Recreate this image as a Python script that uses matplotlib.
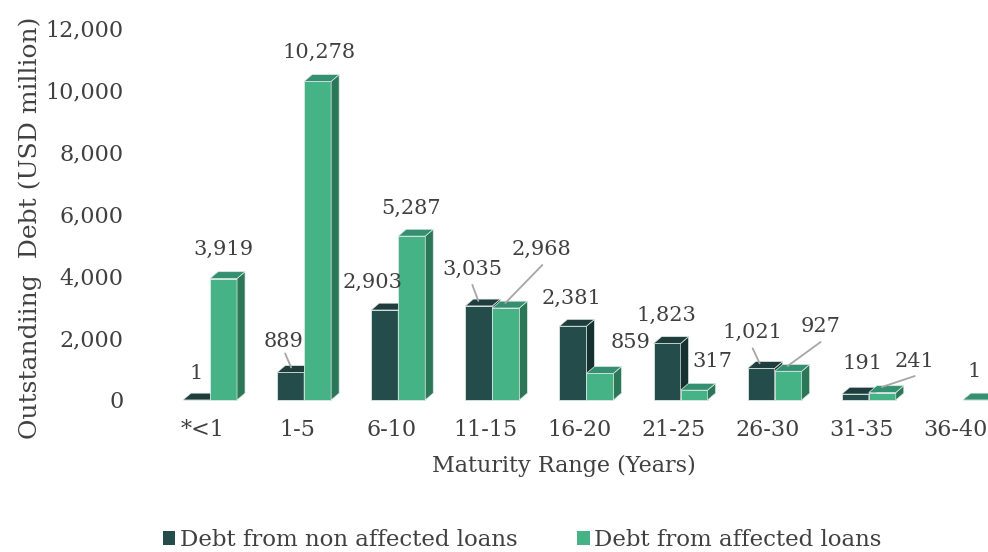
import matplotlib
matplotlib.use("Agg")
import matplotlib.pyplot as plt
from matplotlib.patches import Polygon, Patch
from matplotlib.transforms import offset_copy

categories = ["*<1", "1-5", "6-10", "11-15", "16-20", "21-25", "26-30", "31-35", "36-40"]
non_affected = [1, 889, 2903, 3035, 2381, 1823, 1021, 191, 0]
affected = [3919, 10278, 5287, 2968, 859, 317, 927, 241, 1]
non_affected_labels = ["1", "889", "2,903", "3,035", "2,381", "1,823", "1,021", "191", None]
affected_labels = ["3,919", "10,278", "5,287", "2,968", "859", "317", "927", "241", "1"]
y_ticks = [0, 2000, 4000, 6000, 8000, 10000, 12000]

# layout / style
FONT = "DejaVu Serif"
TXT = "#404040"
LEAD = "#A6A6A6"
dark = dict(front="#234C4B", top="#1E3D3C", side="#173030")
green = dict(front="#45B386", top="#349070", side="#2B7758")
W = 0.287     # bar width (data units)
SHIFT = 0.075 # boundary between the pair, relative to category tick
DX = 0.085    # depth offset x (data units)
DY = 220      # depth offset y (data units)

# label offsets in pixels (dx, dy) from each bar's front-top centre, and optional leader (x1, y1, x2, y2)
na_lab = [((0, 26), None), ((-7.5, 31), (-5.5, 19, 0.5, 5)), ((-12.5, 28), None),
          ((-6.5, 37), (-6.5, 21, -0.5, 5)), ((-1.5, 28), None), ((-0.5, 28.5), None),
          ((-8.5, 36), (-8.5, 20, -1.5, 5)), ((7.5, 31), None), None]
af_lab = [((-0.5, 29.5), None), ((1.5, 29.4), None), ((-0.5, 28), None),
          ((35.5, 59), (36.5, 43, -0.5, 5)), ((30.5, 30.4), None), ((18.5, 28.2), None),
          ((32.5, 44.3), (32.5, 29.3, -0.5, 5.3)), ((32.5, 31.5), (32.5, 16.5, -0.5, 5.5)),
          ((-2.5, 28), None)]


def draw_bar(ax, x0, h, col):
    ax.bar(x0, h, width=W, align="edge", color=col["front"], edgecolor="#DCE8E4",
           linewidth=0.6, zorder=3, clip_on=False)
    top = Polygon([(x0, h), (x0 + W, h), (x0 + W + DX, h + DY), (x0 + DX, h + DY)],
                  closed=True, facecolor=col["top"], edgecolor="#DCE8E4", linewidth=0.5,
                  zorder=3, clip_on=False)
    side = Polygon([(x0 + W, 0), (x0 + W + DX, DY), (x0 + W + DX, h + DY), (x0 + W, h)],
                   closed=True, facecolor=col["side"], edgecolor="#DCE8E4", linewidth=0.5,
                   zorder=3, clip_on=False)
    ax.add_patch(side)
    ax.add_patch(top)


fig = plt.figure(figsize=(9.88, 5.52), dpi=100)
ax = fig.add_axes([140 / 988, (552 - 400) / 552, 1 - 140 / 988, (400 - 28) / 552])
ax.set_xlim(-0.669, 8.342)
ax.set_ylim(0, 12000)

for i in range(len(categories)):
    if non_affected[i] > 0:
        draw_bar(ax, i + SHIFT - W, non_affected[i], dark)
    draw_bar(ax, i + SHIFT, affected[i], green)


def put_label(cx, h, text, spec):
    (tx, ty), lead = spec
    ax.annotate(text, xy=(cx, h), xytext=(tx, ty), textcoords="offset pixels",
                ha="center", va="center", fontsize=15, color=TXT, family=FONT,
                zorder=6, annotation_clip=False)
    if lead is not None:
        x1, y1, x2, y2 = lead
        tr = offset_copy(ax.transData, fig=fig, x=x2, y=y2, units="dots")
        ax.annotate("", xy=(cx, h), xycoords=tr, xytext=(x1 - x2, y1 - y2),
                    textcoords="offset pixels", zorder=6, annotation_clip=False,
                    arrowprops=dict(arrowstyle="-", color=LEAD, lw=1.3,
                                    shrinkA=0, shrinkB=0))


for i in range(len(categories)):
    if non_affected_labels[i] is not None and na_lab[i] is not None:
        put_label(i + SHIFT - W / 2, non_affected[i], non_affected_labels[i], na_lab[i])
    put_label(i + SHIFT + W / 2, affected[i], affected_labels[i], af_lab[i])

ax.set_xticks(range(len(categories)))
ax.set_xticklabels(categories, family=FONT, fontsize=16, color=TXT)
ax.set_yticks(y_ticks)
ax.set_yticklabels([f"{v:,}" for v in y_ticks], family=FONT, fontsize=16, color=TXT)
ax.tick_params(length=0)
ax.tick_params(axis="x", pad=14)
ax.tick_params(axis="y", pad=12)
for s in ax.spines.values():
    s.set_visible(False)

ax.set_xlabel("Maturity Range (Years)", family=FONT, fontsize=16, color=TXT, labelpad=10)
fig.text(30 / 988, 1 - 228 / 552, "Outstandiing  Debt (USD million)", rotation=90, ha="center",
         va="center", family=FONT, fontsize=18, color=TXT)

handles = [Patch(facecolor=dark["front"], label="Debt from non affected loans"),
           Patch(facecolor=green["front"], label="Debt from affected loans")]
fig.legend(handles=handles, loc="center", bbox_to_anchor=(522 / 988, 1 - 540 / 552), ncol=2,
           frameon=False, prop={"family": FONT, "size": 16.5}, handlelength=0.55, handleheight=0.55,
           handletextpad=0.2, columnspacing=2.6, labelcolor=TXT)

fig.savefig("out.png", dpi=100)
